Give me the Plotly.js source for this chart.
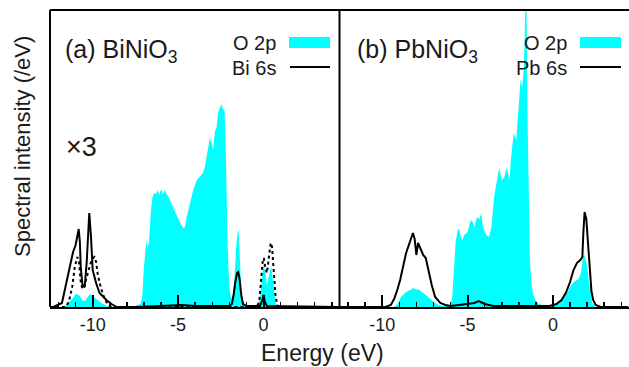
<!DOCTYPE html>
<html>
<head>
<meta charset="utf-8">
<script src="https://cdn.plot.ly/plotly-3.0.1.min.js"></script>
<style>html,body{margin:0;padding:0;background:#fff;}#chart{width:629px;height:367px;}</style>
</head>
<body>
<div id="chart"></div>
<script>
// ---------- DATA (energies in eV, intensities in arbitrary units) ----------
// (a) BiNiO3 : O 2p (filled)
const biO2pE = [-12.5,-11.7,-11.5,-11.2,-11.0,-10.8,-10.6,-10.45,-10.3,-10.15,-10.0,-9.8,-9.5,-9.2,-9.0,-8.5,-7.5,-7.2,-7.1,-7.0,-6.9,-6.85,-6.8,-6.7,-6.6,-6.5,-6.4,-6.3,-6.2,-6.1,-6.0,-5.9,-5.8,-5.7,-5.6,-5.5,-5.3,-5.1,-4.9,-4.7,-4.6,-4.5,-4.3,-4.1,-3.9,-3.8,-3.7,-3.55,-3.45,-3.35,-3.25,-3.15,-3.05,-2.95,-2.85,-2.75,-2.65,-2.55,-2.46,-2.38,-2.28,-2.2,-2.1,-2.0,-1.9,-1.8,-1.7,-1.6,-1.5,-1.45,-1.4,-1.3,-1.2,-1.0,-0.5,-0.3,-0.2,-0.1,0.0,0.1,0.2,0.3,0.45,0.6,0.7,0.8,4.4];
const biO2p  = [0,0,3,8,13,12,7,6,10,13,11,8,4,1,0,0,1,3,10,40,62,68,58,65,95,110,114,113,117,112,118,113,117,114,110,108,100,92,85,79,80,90,105,118,127,129,130,134,139,150,160,168,165,157,175,180,195,200,203,198,197,150,60,20,8,12,30,60,77,75,50,15,5,2,1,2,10,30,43,35,22,30,41,20,5,0,0];
// (a) Bi 6s (solid line)
const bi6sE = [-12.5,-12.3,-11.8,-11.5,-11.3,-11.15,-11.0,-10.9,-10.82,-10.75,-10.7,-10.6,-10.47,-10.35,-10.25,-10.2,-10.1,-10.0,-9.8,-9.6,-9.2,-8.9,-8.6,-7.5,-6.0,-5.2,-4.8,-4.0,-2.5,-2.0,-1.85,-1.75,-1.65,-1.55,-1.48,-1.4,-1.3,-1.2,-1.0,-0.2,-0.08,0.0,0.08,0.2,4.4];
const bi6s  = [0,0,4,27,45,55,62,72,78,65,40,22,20,45,85,94,70,37,24,14,7,3,0,0,1,2,2,1,1,1,3,12,25,34,35,28,12,3,1,1,6,12,5,1,0];
// (a) dotted line (x3 curve)
const biDotE = [-12.5,-11.6,-11.4,-11.2,-11.05,-10.9,-10.8,-10.7,-10.6,-10.5,-10.35,-10.2,-10.05,-9.9,-9.8,-9.7,-9.5,-9.3,-9.1,-8.9,-0.4,-0.25,-0.15,-0.05,0.02,0.1,0.2,0.3,0.42,0.5,0.6,0.7,0.8,0.9,4.4];
const biDot  = [0,0,5,20,40,50,45,25,18,20,30,38,48,50,45,32,18,8,2,0,0,5,25,45,49,40,34,50,64,60,35,12,2,0,0];
// (b) PbNiO3 : O 2p (filled)
const pbO2pE = [-12.5,-9.3,-9.1,-8.9,-8.6,-8.3,-8.15,-8.0,-7.9,-7.6,-7.3,-7.0,-6.7,-6.4,-6.0,-5.9,-5.8,-5.7,-5.6,-5.5,-5.4,-5.3,-5.2,-5.0,-4.85,-4.75,-4.6,-4.45,-4.3,-4.2,-4.1,-3.9,-3.75,-3.6,-3.45,-3.3,-3.15,-3.0,-2.85,-2.7,-2.55,-2.45,-2.3,-2.15,-2.0,-1.9,-1.8,-1.7,-1.62,-1.55,-1.5,-1.42,-1.35,-1.25,-1.15,-1.0,-0.8,-0.5,-0.3,0.0,0.4,0.7,0.9,1.1,1.3,1.5,1.65,1.75,1.82,1.9,2.0,2.1,2.2,2.3,2.5,4.4];
const pbO2p  = [0,0,3,10,15,18,19,17,18,14,10,5,2,1,2,10,40,65,75,79,70,67,72,75,85,87,80,90,88,94,80,72,70,80,110,125,139,127,130,140,127,150,174,167,200,227,220,240,300,300,200,90,45,22,12,6,3,1,0,1,4,10,16,23,26,28,35,50,53,48,40,25,12,4,0,0];
// (b) Pb 6s (solid line)
const pb6sE = [-12.5,-9.8,-9.5,-9.3,-9.1,-8.95,-8.6,-8.4,-8.2,-8.1,-8.0,-7.9,-7.8,-7.6,-7.45,-7.3,-7.1,-6.9,-6.6,-6.3,-6.0,-5.5,-5.0,-4.6,-4.35,-4.2,-4.0,-3.5,-1.0,-0.2,0.2,0.5,0.75,1.0,1.2,1.4,1.6,1.72,1.78,1.85,1.95,2.05,2.15,2.25,2.35,2.5,2.8,4.4];
const pb6s  = [0,0,2,8,18,27,54,65,74,68,52,64,60,52,49,36,22,10,4,2,1,2,3,4,6,5,3,1,1,1,3,7,14,25,37,44,47,50,75,95,88,65,35,16,7,2,0,0];

// Tick labels
const tickVals = [-10,-5,0];
const tickText = ['-10','-5','0'];

// ---------- LAYOUT HELPERS ----------
const L = 50, T = 10, W = 579, H = 297;
const px = x => (x - L) / W;      // pixel -> paper x
const py = y => (T + H - y) / H;  // pixel -> paper y
const FONT = 'Liberation Sans, Arial, sans-serif';
const CYAN = '#00FFFF';
const TXT = '#1a1a1a';

function fillTrace(x, y, xa, ya) {
  return {x, y, xaxis: xa, yaxis: ya, type: 'scatter', mode: 'lines', fill: 'tozeroy',
    fillcolor: CYAN, line: {width: 0, color: CYAN}, hoverinfo: 'skip', showlegend: false};
}
function lineTrace(x, y, xa, ya, dash) {
  return {x, y, xaxis: xa, yaxis: ya, type: 'scatter', mode: 'lines',
    line: {width: 2, color: '#000', dash: dash || 'solid'}, hoverinfo: 'skip', showlegend: false};
}

const data = [
  fillTrace(biO2pE, biO2p, 'x', 'y'),
  lineTrace(biDotE, biDot, 'x', 'y', 'dot'),
  lineTrace(bi6sE, bi6s, 'x', 'y'),
  fillTrace(pbO2pE, pbO2p, 'x2', 'y2'),
  lineTrace(pb6sE, pb6s, 'x2', 'y2')
];

function xAxis(domain) {
  return {domain, range: [-12.5, 4.45], showgrid: false, zeroline: false,
    showline: true, linecolor: '#000', linewidth: 2,
    tickvals: tickVals, ticktext: tickText, ticks: 'inside', ticklen: 12, tickwidth: 2, tickcolor: '#000',
    tickfont: {family: FONT, size: 18, color: TXT},
    minor: {dtick: 1, tick0: 0, ticks: 'inside', ticklen: 5, tickwidth: 1.5, tickcolor: '#000', showgrid: false}};
}
function yAxis(anchor) {
  return {anchor, range: [0, 297], showgrid: false, zeroline: false, showline: false,
    showticklabels: false, ticks: ''};
}

const layout = {
  width: 629, height: 367,
  margin: {l: L, r: 0, t: T, b: 367 - T - H},
  paper_bgcolor: '#fff', plot_bgcolor: '#fff',
  showlegend: false,
  xaxis: Object.assign(xAxis([0, 0.5]), {anchor: 'y'}),
  xaxis2: Object.assign(xAxis([0.5, 1]), {anchor: 'y2'}),
  yaxis: yAxis('x'),
  yaxis2: Object.assign(yAxis('x2'), {matches: 'y'}),
  shapes: [
    {type: 'line', xref: 'paper', yref: 'paper', x0: 0, x1: 1, y0: 1, y1: 1, line: {color: '#000', width: 2}},
    {type: 'line', xref: 'paper', yref: 'paper', x0: 0, x1: 0, y0: 0, y1: 1, line: {color: '#000', width: 2}},
    {type: 'line', xref: 'paper', yref: 'paper', x0: 0.5, x1: 0.5, y0: 0, y1: 1, line: {color: '#000', width: 2}},
    // legend keys
    {type: 'rect', xref: 'paper', yref: 'paper', x0: px(289), x1: px(330), y0: py(48), y1: py(37), fillcolor: CYAN, line: {width: 0}},
    {type: 'line', xref: 'paper', yref: 'paper', x0: px(290), x1: px(330), y0: py(67), y1: py(67), line: {color: '#000', width: 2}},
    {type: 'rect', xref: 'paper', yref: 'paper', x0: px(580), x1: px(621), y0: py(48), y1: py(37), fillcolor: CYAN, line: {width: 0}},
    {type: 'line', xref: 'paper', yref: 'paper', x0: px(580), x1: px(621), y0: py(67), y1: py(67), line: {color: '#000', width: 2}}
  ],
  annotations: [
    {text: 'Energy (eV)', xref: 'paper', yref: 'paper', x: px(322), y: py(353), xanchor: 'center', yanchor: 'middle', showarrow: false, font: {family: FONT, size: 23, color: TXT}},
    {text: 'Spectral intensity (/eV)', xref: 'paper', yref: 'paper', x: px(22), y: py(147), xanchor: 'center', yanchor: 'middle', textangle: -90, showarrow: false, font: {family: FONT, size: 22, color: TXT}},
    {text: '(a) BiNiO<sub>3</sub>', xref: 'paper', yref: 'paper', x: px(63), y: py(51), xanchor: 'left', yanchor: 'middle', showarrow: false, font: {family: FONT, size: 25, color: TXT}},
    {text: '(b) PbNiO<sub>3</sub>', xref: 'paper', yref: 'paper', x: px(355), y: py(51), xanchor: 'left', yanchor: 'middle', showarrow: false, font: {family: FONT, size: 25, color: TXT}},
    {text: '×3', xref: 'paper', yref: 'paper', x: px(64), y: py(147), xanchor: 'left', yanchor: 'middle', showarrow: false, font: {family: FONT, size: 27, color: TXT}},
    {text: 'O 2p', xref: 'paper', yref: 'paper', x: px(278), y: py(43), xanchor: 'right', yanchor: 'middle', showarrow: false, font: {family: FONT, size: 20, color: TXT}},
    {text: 'Bi 6s', xref: 'paper', yref: 'paper', x: px(278), y: py(68), xanchor: 'right', yanchor: 'middle', showarrow: false, font: {family: FONT, size: 20, color: TXT}},
    {text: 'O 2p', xref: 'paper', yref: 'paper', x: px(569), y: py(43), xanchor: 'right', yanchor: 'middle', showarrow: false, font: {family: FONT, size: 20, color: TXT}},
    {text: 'Pb 6s', xref: 'paper', yref: 'paper', x: px(569), y: py(68), xanchor: 'right', yanchor: 'middle', showarrow: false, font: {family: FONT, size: 20, color: TXT}}
  ]
};

Plotly.newPlot('chart', data, layout, {staticPlot: true, displayModeBar: false});
</script>
</body>
</html>
